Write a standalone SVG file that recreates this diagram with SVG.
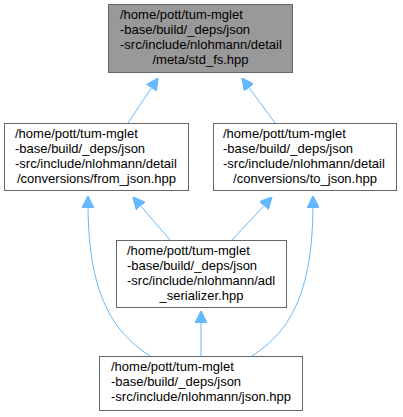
<svg xmlns="http://www.w3.org/2000/svg" width="403" height="417" viewBox="0 0 403 417">
<defs>
<style>
.box{fill:#ffffff;stroke:#666666;stroke-width:1}
.root{fill:#999999;stroke:#666666;stroke-width:1}
text{font-family:"Liberation Sans",Arial,sans-serif;font-size:13px;fill:#000000}
.e{fill:none;stroke:#63b8ff;stroke-width:1}
.mid{text-anchor:middle}
</style>
<marker id="ah" markerWidth="12" markerHeight="12" refX="10" refY="5" orient="auto" markerUnits="userSpaceOnUse" viewBox="0 0 10 10">
<path d="M0,0 L10,5 L0,10 Z" fill="#63b8ff" stroke="#63b8ff"/>
</marker>
</defs>
<g id="edges">
<path class="e" d="M128,123 L158,78" marker-end="url(#ah)"/>
<path class="e" d="M275,123 L242,78" marker-end="url(#ah)"/>
<path class="e" d="M170,240 L133,197" marker-end="url(#ah)"/>
<path class="e" d="M232,240 L272,197" marker-end="url(#ah)"/>
<path class="e" d="M201,356 L201,311" marker-end="url(#ah)"/>
<path class="e" d="M150,356 C110,330 87,290 88,196" marker-end="url(#ah)"/>
<path class="e" d="M252,356 C292,330 314,290 313,196" marker-end="url(#ah)"/>
</g>
<g id="node1">
<rect class="root" x="108.5" y="4.5" width="184" height="68"/>
<text x="120" y="19">/home/pott/tum-mglet</text>
<text x="120" y="34">-base/build/_deps/json</text>
<text x="120" y="49">-src/include/nlohmann/detail</text>
<text class="mid" x="200.5" y="64">/meta/std_fs.hpp</text>
</g>
<g id="node2">
<rect class="box" x="4.5" y="123.5" width="184" height="67"/>
<text x="15" y="138">/home/pott/tum-mglet</text>
<text x="15" y="153">-base/build/_deps/json</text>
<text x="15" y="168">-src/include/nlohmann/detail</text>
<text class="mid" x="96.5" y="183">/conversions/from_json.hpp</text>
</g>
<g id="node3">
<rect class="box" x="213.5" y="123.5" width="183" height="67"/>
<text x="223" y="138">/home/pott/tum-mglet</text>
<text x="223" y="153">-base/build/_deps/json</text>
<text x="223" y="168">-src/include/nlohmann/detail</text>
<text class="mid" x="305" y="183">/conversions/to_json.hpp</text>
</g>
<g id="node4">
<rect class="box" x="116.5" y="240.5" width="170" height="67"/>
<text x="127" y="255">/home/pott/tum-mglet</text>
<text x="127" y="270">-base/build/_deps/json</text>
<text x="127" y="285">-src/include/nlohmann/adl</text>
<text class="mid" x="201.5" y="300">_serializer.hpp</text>
</g>
<g id="node5">
<rect class="box" x="99.5" y="356.5" width="203" height="54"/>
<text x="111" y="371">/home/pott/tum-mglet</text>
<text x="111" y="386">-base/build/_deps/json</text>
<text x="111" y="401">-src/include/nlohmann/json.hpp</text>
</g>
</svg>
